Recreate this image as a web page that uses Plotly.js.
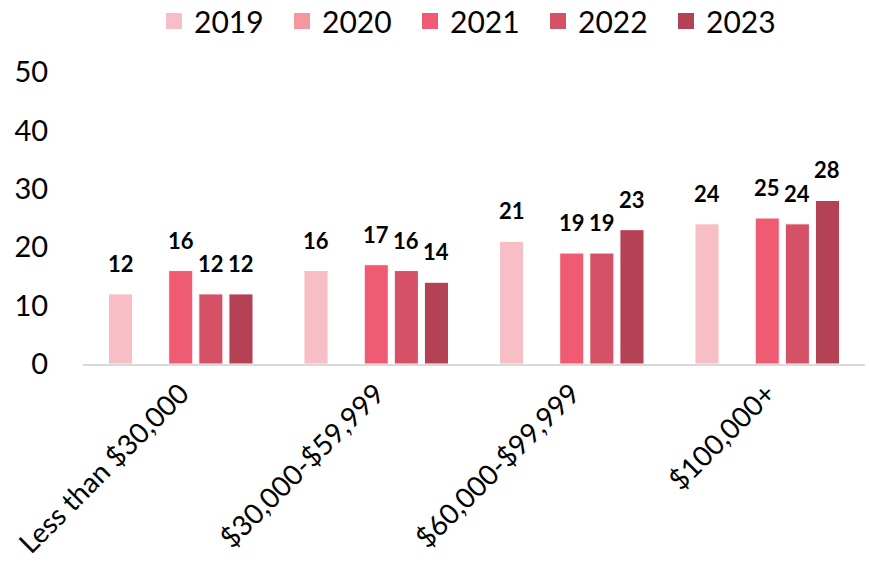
<!DOCTYPE html>
<html>
<head>
<meta charset="utf-8">
<script src="https://cdn.plot.ly/plotly-3.0.1.min.js"></script>
<style>html,body{margin:0;padding:0;background:#fff}#chart{width:869px;height:562px}</style>
</head>
<body>
<div id="chart"></div>
<script>
const categories = ["Less than $30,000", "$30,000-$59,999", "$60,000-$99,999", "$100,000+"];
const years = ["2019", "2020", "2021", "2022", "2023"];
const v2019 = [12, 16, 21, 24];
const v2020 = [null, null, null, null];
const v2021 = [16, 17, 19, 25];
const v2022 = [12, 16, 19, 24];
const v2023 = [12, 14, 23, 28];
const colors = ["#F7BEC5", "#F4979F", "#EF5B73", "#D55166", "#B54154"];

const series = [v2019, v2020, v2021, v2022, v2023];
const FONT = "Lato, 'Open Sans', sans-serif";

const W = 869, H = 562;
const margin = {l: 83, r: 4, t: 72, b: 198};
const bargap = 0.23;
const plotW = W - margin.l - margin.r;
const slot = (plotW / categories.length) * (1 - bargap) / series.length;

const traces = series.map((vals, i) => ({
  type: "bar",
  name: years[i],
  x: categories,
  y: vals,
  marker: {color: colors[i], line: {color: "#ffffff", width: 1}},
  showlegend: false,
  hoverinfo: "skip"
}));

// legend-only entries with larger square swatches
years.forEach((yr, i) => {
  traces.push({
    type: "scatter", mode: "markers",
    name: yr, x: [null], y: [null],
    marker: {symbol: "square", size: 16, color: colors[i]},
    showlegend: true, hoverinfo: "skip"
  });
});

const annotations = [];
series.forEach((vals, i) => {
  vals.forEach((v, j) => {
    if (v === null) return;
    annotations.push({
      x: categories[j], y: v, xref: "x", yref: "y",
      text: String(v), showarrow: false,
      xanchor: "center", yanchor: "bottom",
      xshift: (i - (series.length - 1) / 2) * slot,
      yshift: 15,
      font: {family: FONT, size: 22, color: "#000", weight: 700}
    });
  });
});

const layout = {
  width: W, height: H,
  margin: margin,
  paper_bgcolor: "#fff", plot_bgcolor: "#fff",
  barmode: "group",
  bargap: bargap,
  bargroupgap: 0.2,
  font: {family: FONT, color: "#000"},
  showlegend: true,
  legend: {
    orientation: "h", x: 0.5, xanchor: "center",
    y: 1 - 21 / H, yanchor: "middle", yref: "container",
    font: {family: FONT, size: 30, color: "#000"},
    traceorder: "normal", itemwidth: 30,
    entrywidth: 83, entrywidthmode: "pixels"
  },
  annotations: annotations,
  xaxis: {
    type: "category",
    showline: true, linecolor: "#D9D9D9", linewidth: 2,
    showgrid: false, zeroline: false,
    ticks: "", tickangle: -45,
    tickfont: {family: FONT, size: 28, color: "#000"}
  },
  yaxis: {
    range: [0, 50], dtick: 10, tick0: 0,
    showline: false, showgrid: false, zeroline: false,
    ticks: "outside", ticklen: 28, tickcolor: "rgba(0,0,0,0)",
    tickfont: {family: FONT, size: 29, color: "#000"}
  }
};

Plotly.newPlot("chart", traces, layout, {displayModeBar: false, staticPlot: true});
</script>
</body>
</html>
